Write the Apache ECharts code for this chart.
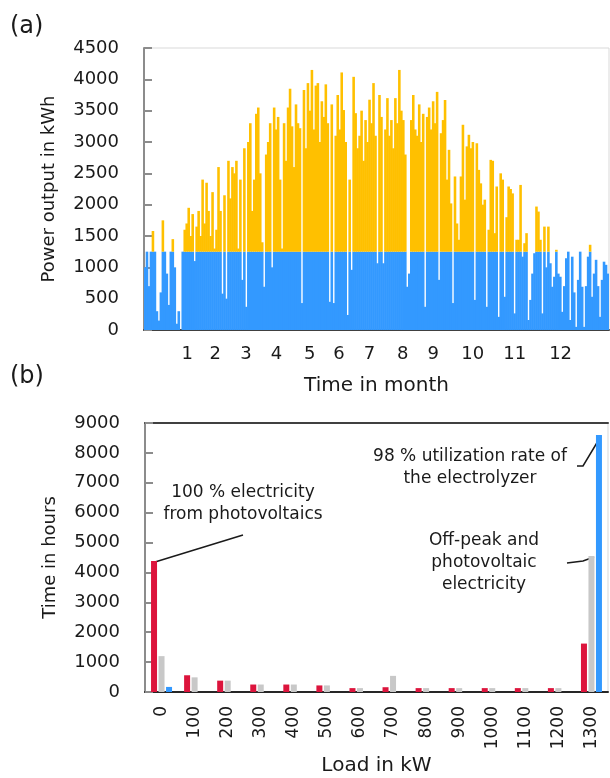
<!DOCTYPE html>
<html>
<head>
<meta charset="utf-8">
<script src="https://cdn.jsdelivr.net/npm/echarts@6/dist/echarts.min.js"></script>
<style>
  html, body { margin: 0; padding: 0; background: #fff; }
  #chart { width: 610px; height: 778px; }
</style>
</head>
<body>
<div id="chart"></div>
<script>
// (a) power output, one value per ~2px column
var powerOutput = [
    1000, 1250, 700, 1250, 1580, 1250, 300, 150, 600, 1750,
    1250, 900, 400, 1250, 1450, 1000, 100, 300, 0, 1250,
    1600, 1700, 1950, 1500, 1850, 1100, 1650, 1900, 1500, 2400,
    1700, 2350, 1900, 1500, 2200, 1300, 1600, 2600, 1900, 580,
    2150, 500, 2700, 2100, 2600, 2500, 2700, 1300, 2400, 800,
    2900, 370, 3000, 3300, 1900, 2400, 3450, 3550, 2500, 1400,
    690, 2800, 3000, 3300, 1000, 3550, 3200, 3400, 2400, 1300,
    3300, 2700, 3550, 3850, 3250, 2600, 3600, 3300, 3220, 430,
    3830, 2900, 3940, 3500, 4150, 3200, 3900, 3940, 3000, 3650,
    3400, 3920, 3300, 450, 3600, 430, 3100, 3750, 3200, 4110,
    3510, 3000, 240, 2400, 960, 4040, 3460, 2900, 3100, 3500,
    2700, 3350, 3000, 3675, 3300, 3940, 3100, 1065, 3750, 3400,
    1065, 3200, 3700, 3100, 3350, 2900, 3700, 3300, 4150, 3500,
    3350, 2800, 690, 900, 3350, 3750, 3200, 3100, 3600, 3000,
    3450, 370, 3400, 3550, 3200, 3650, 3300, 3800, 800, 3140,
    3350, 3670, 2400, 2875, 2020, 430, 2450, 1700, 1440, 2450,
    3275, 2080, 2930, 3115, 2900, 3000, 480, 2980, 2555, 2340,
    2000, 2080, 370, 1600, 2715, 2700, 1545, 2290, 210, 2500,
    2400, 530, 1800, 2290, 2250, 2180, 265, 1440, 1440, 2315,
    1170, 1385, 1545, 160, 480, 900, 1225, 1970, 1890, 1440,
    265, 1650, 1000, 1650, 1065, 690, 850, 1280, 900, 850,
    290, 700, 1145, 1250, 160, 1170, 600, 50, 800, 1250,
    690, 50, 700, 1170, 1360, 530, 900, 1120, 700, 210,
    800, 1090, 1040, 900
];
var electrolyzerCap = 1250;

var monthLabels = ["1", "2", "3", "4", "5", "6", "7", "8", "9", "10", "11", "12"];
var monthLabelDays = [34, 56, 80, 104, 130, 153, 177, 203, 227, 258, 291, 327];

// (b) load duration histogram
var loadLabels = ["0", "100", "200", "300", "400", "500", "600", "700", "800", "900", "1000", "1100", "1200", "1300"];
var hoursRed = [4380, 560, 380, 250, 250, 220, 130, 160, 130, 130, 130, 130, 130, 1620];
var hoursGray = [1200, 490, 380, 250, 250, 220, 130, 540, 130, 130, 130, 130, 130, 4550];
var hoursBlue = [170, 0, 0, 0, 0, 0, 0, 0, 0, 0, 0, 0, 0, 8600];

var FONT = "DejaVu Sans";
var idx = powerOutput.map(function (v, i) { return i; });
var bluePart = powerOutput.map(function (v) { return Math.min(v, electrolyzerCap); });
var orangePart = powerOutput.map(function (v) { return Math.max(v - electrolyzerCap, 0); });

var chart = echarts.init(document.getElementById("chart"));

var yAxisBase = {
    type: "value",
    axisLine: {show: true, lineStyle: {color: "#8c8c8c", width: 2}},
    axisTick: {show: true, inside: true, length: 8, lineStyle: {color: "#8c8c8c", width: 2}},
    splitLine: {show: false},
    axisLabel: {
        fontFamily: FONT, fontSize: 18, color: "#1a1a1a", margin: 25,
        formatter: function (v) { return String(v); }
    },
    nameLocation: "middle",
    nameGap: 86,
    nameTextStyle: {fontFamily: FONT, fontSize: 18, color: "#1a1a1a"}
};

var option = {
    animation: false,
    backgroundColor: "#fff",
    textStyle: {fontFamily: FONT},
    grid: [
        {left: 144, right: 1, top: 48, height: 282, show: true, borderColor: "#d9d9d9", borderWidth: 1, outerBoundsMode: "none"},
        {left: 145, right: 2, top: 423, height: 269, show: true, borderColor: "#d9d9d9", borderWidth: 1, outerBoundsMode: "none"}
    ],
    xAxis: [
        {
            gridIndex: 0, type: "category", position: "top", data: idx,
            axisLine: {lineStyle: {color: "#404040", width: 2}},
            axisTick: {show: false}, axisLabel: {show: false}
        },
        {
            gridIndex: 0, type: "value", position: "bottom", min: 0, max: 365,
            axisLine: {show: false}, axisTick: {show: false}, splitLine: {show: false},
            axisLabel: {
                customValues: monthLabelDays,
                fontFamily: FONT, fontSize: 18, color: "#1a1a1a", margin: 15,
                formatter: function (v) { return monthLabels[monthLabelDays.indexOf(v)]; }
            },
            name: "Time in month", nameLocation: "middle", nameGap: 46,
            nameTextStyle: {fontFamily: FONT, fontSize: 20, color: "#1a1a1a"}
        },
        {
            gridIndex: 1, type: "category", position: "bottom", data: loadLabels,
            axisLine: {lineStyle: {color: "#262626", width: 2}},
            axisTick: {show: false},
            axisLabel: {rotate: 90, interval: 0, fontFamily: FONT, fontSize: 17, color: "#1a1a1a", margin: 14},
            name: "Load in kW", nameLocation: "middle", nameGap: 64,
            nameTextStyle: {fontFamily: FONT, fontSize: 20, color: "#1a1a1a"}
        },
        {
            gridIndex: 1, type: "category", position: "top", data: loadLabels,
            axisLine: {lineStyle: {color: "#404040", width: 2}},
            axisTick: {show: false}, axisLabel: {show: false}
        }
    ],
    yAxis: [
        Object.assign({}, yAxisBase, {gridIndex: 0, min: 0, max: 4500, interval: 500, name: "Power output in kWh"}),
        Object.assign({}, yAxisBase, {gridIndex: 1, min: 0, max: 9000, interval: 1000, name: "Time in hours"})
    ],
    series: [
        {
            name: "Electrolyzer", type: "bar", xAxisIndex: 0, yAxisIndex: 0, stack: "pv",
            barWidth: "130%", data: bluePart, itemStyle: {color: "#3399ff"}
        },
        {
            name: "Surplus", type: "bar", xAxisIndex: 0, yAxisIndex: 0, stack: "pv",
            barWidth: "130%", data: orangePart, itemStyle: {color: "#ffc000"}
        },
        {
            name: "PV", type: "bar", xAxisIndex: 2, yAxisIndex: 1,
            barWidth: 6, barGap: "25%", data: hoursRed, itemStyle: {color: "#dc143c"}
        },
        {
            name: "Off-peak + PV", type: "bar", xAxisIndex: 2, yAxisIndex: 1,
            barWidth: 6, barGap: "25%", data: hoursGray, itemStyle: {color: "#c8c8c8"}
        },
        {
            name: "Utilization", type: "bar", xAxisIndex: 2, yAxisIndex: 1,
            barWidth: 6, barGap: "25%", data: hoursBlue, itemStyle: {color: "#3399ff"}
        }
    ],
    graphic: [
        {type: "text", left: 10, top: 15, style: {text: "(a)", font: "24px " + FONT, fill: "#1a1a1a"}},
        {type: "text", left: 10, top: 365, style: {text: "(b)", font: "24px " + FONT, fill: "#1a1a1a"}},
        {type: "text", x: 243, y: 504, style: {text: "100 % electricity\nfrom photovoltaics", font: "17px " + FONT, fill: "#1a1a1a", align: "center", verticalAlign: "middle", lineHeight: 22}},
        {type: "text", x: 470, y: 468, style: {text: "98 % utilization rate of\nthe electrolyzer", font: "17px " + FONT, fill: "#1a1a1a", align: "center", verticalAlign: "middle", lineHeight: 22}},
        {type: "text", x: 484, y: 563, style: {text: "Off-peak and\nphotovoltaic\nelectricity", font: "17px " + FONT, fill: "#1a1a1a", align: "center", verticalAlign: "middle", lineHeight: 22}},
        {type: "polyline", shape: {points: [[155, 562], [243, 535]]}, style: {stroke: "#1a1a1a", lineWidth: 1.5, fill: null}},
        {type: "polyline", shape: {points: [[577, 466], [583, 466], [601, 436]]}, style: {stroke: "#1a1a1a", lineWidth: 1.5, fill: null}},
        {type: "polyline", shape: {points: [[567, 563], [583, 561], [594, 557]]}, style: {stroke: "#1a1a1a", lineWidth: 1.5, fill: null}}
    ]
};

chart.setOption(option);

window.onresize = function () {
    chart.resize();
};
</script>
</body>
</html>
